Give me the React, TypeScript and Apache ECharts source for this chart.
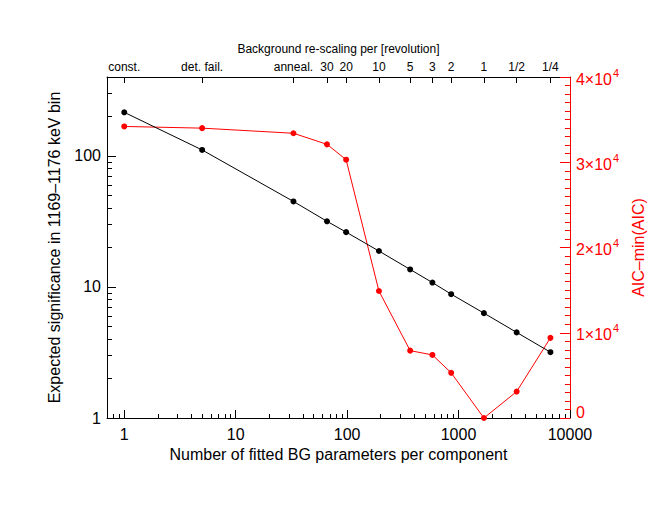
import React, { useEffect, useRef } from "react";
import * as echarts from "echarts";

// Number of fitted BG parameters per component (x of each point)
const nParams = [1, 5, 33, 66, 98, 193, 368, 583, 859, 1690, 3324, 6683];
// Top axis labels (background re-scaling per revolution)
const topLabels = ["const.", "det. fail.", "anneal.", "30", "20", "10", "5", "3", "2", "1", "1/2", "1/4"];
// Expected significance (left, log axis)
const significance = [215, 111, 44.9, 31.7, 26.2, 18.8, 13.6, 10.8, 8.81, 6.31, 4.5, 3.18];
// AIC - min(AIC) (right, linear axis)
const aicDelta = [34200, 34000, 33400, 32100, 30300, 14900, 7900, 7400, 5300, 0, 3100, 9400];

const xMajor = [1, 10, 100, 1000, 10000];
const xMinor = [0.8, 0.9, 2, 3, 4, 5, 6, 7, 8, 9, 20, 30, 40, 50, 60, 70, 80, 90, 200, 300, 400, 500, 600, 700, 800, 900, 2000, 3000, 4000, 5000, 6000, 7000, 8000, 9000];
const yMajor = [1, 10, 100];
const yMinor = [2, 3, 4, 5, 6, 7, 8, 9, 20, 30, 40, 50, 60, 70, 80, 90, 200, 300, 400];

const FONT = "Liberation Sans";

export default function App() {
  const ref = useRef<HTMLDivElement>(null);
  useEffect(() => {
    if (!ref.current) return;
    const chart = echarts.init(ref.current, null, { renderer: "svg" });
    const xBase = { type: "log" as const, min: 0.7, max: 10000, splitLine: { show: false } };
    const yBase = { type: "log" as const, min: 1, max: 400, splitLine: { show: false } };
    chart.setOption({
      animation: false,
      backgroundColor: "#ffffff",
      textStyle: { fontFamily: FONT },
      grid: { left: 107, right: 77, top: 77, bottom: 87, containLabel: false },
      xAxis: [
        {
          ...xBase,
          position: "bottom",
          name: "Number of fitted BG parameters per component",
          nameLocation: "middle",
          nameGap: 28,
          nameTextStyle: { fontSize: 16, color: "#000", fontFamily: FONT },
          axisLine: { show: true, lineStyle: { color: "#000", width: 1 } },
          axisTick: { show: true, inside: true, length: 8, customValues: xMajor, lineStyle: { color: "#000" } },
          axisLabel: { show: true, customValues: xMajor, fontSize: 16, color: "#000", margin: 8, fontFamily: FONT, formatter: (v: number) => String(Math.round(v)) },
        },
        {
          ...xBase,
          position: "bottom",
          axisLine: { show: false },
          axisTick: { show: true, inside: true, length: 4, customValues: xMinor, lineStyle: { color: "#000" } },
          axisLabel: { show: false },
        },
        {
          ...xBase,
          position: "top",
          name: "Background re-scaling per [revolution]",
          nameLocation: "middle",
          nameGap: 22,
          nameTextStyle: { fontSize: 12, color: "#000", fontFamily: FONT },
          axisLine: { show: true, lineStyle: { color: "#000", width: 1 } },
          axisTick: { show: true, inside: true, length: 6, customValues: nParams, lineStyle: { color: "#000" } },
          axisLabel: {
            show: true,
            customValues: nParams,
            fontSize: 12,
            color: "#000",
            margin: 4,
            fontFamily: FONT,
            formatter: (v: number) => {
              let best = 0;
              let bd = Infinity;
              nParams.forEach((p, i) => {
                const d = Math.abs(Math.log(p) - Math.log(v));
                if (d < bd) { bd = d; best = i; }
              });
              return topLabels[best];
            },
          },
        },
      ],
      yAxis: [
        {
          ...yBase,
          position: "left",
          name: "Expected significance in 1169\u20131176 keV bin",
          nameLocation: "middle",
          nameGap: 45,
          nameTextStyle: { fontSize: 16, color: "#000", fontFamily: FONT },
          axisLine: { show: true, lineStyle: { color: "#000", width: 1 } },
          axisTick: { show: true, inside: true, length: 9, customValues: yMajor, lineStyle: { color: "#000" } },
          axisLabel: { show: true, customValues: yMajor, fontSize: 16, color: "#000", margin: 6, fontFamily: FONT, formatter: (v: number) => String(Math.round(v)) },
        },
        {
          ...yBase,
          position: "left",
          axisLine: { show: false },
          axisTick: { show: true, inside: true, length: 5, customValues: yMinor, lineStyle: { color: "#000" } },
          axisLabel: { show: false },
        },
        {
          type: "value",
          position: "right",
          min: 0,
          max: 40000,
          interval: 10000,
          name: "AIC\u2013min(AIC)",
          nameLocation: "middle",
          nameGap: 52,
          nameRotate: 90,
          nameTextStyle: { fontSize: 16, color: "#ff0000", fontFamily: FONT, padding: [0, 0, 14, 0] },
          splitLine: { show: false },
          axisLine: { show: true, lineStyle: { color: "#ff0000", width: 1 } },
          axisTick: { show: true, inside: true, length: 10, lineStyle: { color: "#ff0000" } },
          minorTick: { show: true, splitNumber: 10, length: 5, lineStyle: { color: "#ff0000" } },
          axisLabel: {
            show: true,
            margin: 6,
            color: "#ff0000",
            fontFamily: FONT,
            fontSize: 16,
            formatter: (v: number) => {
              if (v === 0) return "{z|0}";
              if (v === 40000) return `{t|4\u00d710}{ts|4}`;
              return `{m|${v / 10000}\u00d710}{s|4}`;
            },
            rich: {
              z: { fontSize: 16, color: "#ff0000", fontFamily: FONT, lineHeight: 20, padding: [0, 0, 12, 0] },
              m: { fontSize: 16, color: "#ff0000", fontFamily: FONT, lineHeight: 20, verticalAlign: "bottom" },
              s: { fontSize: 11, color: "#ff0000", fontFamily: FONT, lineHeight: 20, verticalAlign: "top", padding: [0, 0, 0, 1] },
              t: { fontSize: 16, color: "#ff0000", fontFamily: FONT, lineHeight: 20, verticalAlign: "bottom", padding: [10, 0, 0, 0] },
              ts: { fontSize: 11, color: "#ff0000", fontFamily: FONT, lineHeight: 20, verticalAlign: "top", padding: [0, 0, 0, 1] },
            },
          },
        },
      ],
      series: [
        {
          type: "line",
          name: "significance",
          xAxisIndex: 0,
          yAxisIndex: 0,
          data: nParams.map((x, i) => [x, significance[i]]),
          symbol: "circle",
          symbolSize: 6,
          lineStyle: { color: "#000", width: 1 },
          itemStyle: { color: "#000" },
          z: 3,
        },
        {
          type: "line",
          name: "AIC",
          xAxisIndex: 0,
          yAxisIndex: 2,
          data: nParams.map((x, i) => [x, aicDelta[i]]),
          symbol: "circle",
          symbolSize: 6,
          lineStyle: { color: "#ff0000", width: 1 },
          itemStyle: { color: "#ff0000" },
          z: 2,
        },
      ],
    });
    return () => chart.dispose();
  }, []);
  return <div ref={ref} style={{ position: "fixed", left: 0, top: 0, width: 654, height: 505 }} />;
}
